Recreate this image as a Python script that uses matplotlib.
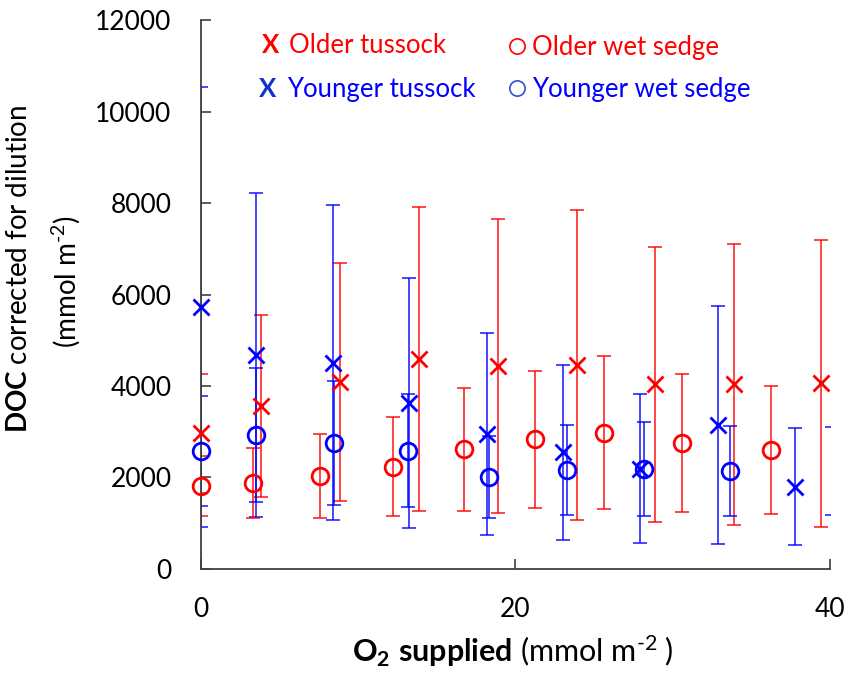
import matplotlib
matplotlib.use("Agg")
import matplotlib.pyplot as plt
import numpy as np

plt.rcParams['font.family'] = ['Lato', 'DejaVu Sans']
plt.rcParams['mathtext.fontset'] = 'custom'
plt.rcParams['mathtext.rm'] = 'Lato'
plt.rcParams['mathtext.it'] = 'Lato:italic'
plt.rcParams['mathtext.bf'] = 'Lato:bold'

# O2 supplied (x), DOC mean (y) and error (+/-) for each group
older_tussock_x = [0, 3.83, 8.83, 13.87, 18.87, 23.90, 28.88, 33.92, 39.45]
older_tussock_y = [2966, 3570, 4094, 4590, 4437, 4459, 4036, 4036, 4058]
older_tussock_err = [1296, 1990, 2597, 3320, 3224, 3380, 3009, 3070, 3137]

younger_tussock_x = [0, 3.49, 8.38, 13.23, 18.17, 23.04, 27.95, 32.89, 37.76]
younger_tussock_y = [5720, 4671, 4510, 3636, 2951, 2550, 2193, 3148, 1799]
younger_tussock_err = [4810, 3545, 3450, 2730, 2205, 1910, 1630, 2595, 1280]

older_sedge_x = [0, 3.32, 7.56, 12.22, 16.73, 21.24, 25.62, 30.60, 36.28]
older_sedge_y = [1807, 1880, 2033, 2236, 2616, 2834, 2980, 2761, 2601]
older_sedge_err = [656, 760, 915, 1080, 1340, 1500, 1675, 1510, 1400]

younger_sedge_x = [0, 3.49, 8.47, 13.19, 18.30, 23.29, 28.18, 33.63, 40.10]
younger_sedge_y = [2572, 2929, 2754, 2586, 2018, 2164, 2193, 2142, 2142]
younger_sedge_err = [1200, 1470, 1350, 1240, 900, 990, 1025, 985, 962]

red = '#ff0000'
blue = '#0000ff'

fig = plt.figure(figsize=(8.48, 6.81), dpi=100)
ax = fig.add_axes([0.2367, 0.1645, 0.7421, 0.806])
ax.set_xlim(0, 40)
ax.set_ylim(0, 12000)

series = [
    (older_tussock_x, older_tussock_y, older_tussock_err, red, 'x', 11),
    (younger_tussock_x, younger_tussock_y, younger_tussock_err, blue, 'x', 11),
    (older_sedge_x, older_sedge_y, older_sedge_err, red, 'o', 12),
    (younger_sedge_x, younger_sedge_y, younger_sedge_err, blue, 'o', 12),
]

# error bars are clipped by the axes, markers inside the x range are not
for xs, ys, errs, col, mk, ms in series:
    ax.errorbar(xs, ys, yerr=errs, fmt='none', ecolor=col, elinewidth=1.2,
                capsize=5, capthick=1.2, alpha=0.85)
for xs, ys, errs, col, mk, ms in series:
    xs = np.array(xs)
    ys = np.array(ys)
    keep = xs <= 40
    ax.plot(xs[keep], ys[keep], linestyle='none', marker=mk, markersize=ms,
            markeredgewidth=2.0, markeredgecolor=col, markerfacecolor='none',
            clip_on=False, zorder=3)

for side in ['top', 'right']:
    ax.spines[side].set_visible(False)
for side in ['left', 'bottom']:
    ax.spines[side].set_color('#404040')
    ax.spines[side].set_linewidth(1.3)

ax.set_yticks(np.arange(0, 12001, 2000))
ax.set_xticks([0, 20, 40])
ax.tick_params(axis='both', direction='in', length=7.5, width=1.2,
               color='#404040', labelsize=19, labelcolor='black')
ax.tick_params(axis='y', pad=21)
ax.tick_params(axis='x', pad=20)

# axis titles, superscripts use a short hyphen
hy = '\u2010'
fig.text(0.0318, 0.605, r"$\mathbf{DOC}$ corrected for dilution", fontsize=20,
         rotation=90, rotation_mode='anchor', ha='center', va='baseline')
fig.text(0.0890, 0.586, "(mmol m$^{" + hy + "2}$)", fontsize=20,
         rotation=90, rotation_mode='anchor', ha='center', va='baseline')
fig.text(0.605, 1 - 662 / 681, r"$\mathbf{O_2\ supplied}$ (mmol m$^{" + hy + "2}$ )",
         fontsize=22, ha='center', va='baseline')

# legend written as coloured text
tr = ax.transAxes
ax.text(0.111, 0.940, 'X', color=red, fontsize=18.5, fontweight='bold',
        ha='center', va='baseline', transform=tr)
ax.text(0.140, 0.940, 'Older tussock', color=red, fontsize=18.5,
        ha='left', va='baseline', transform=tr)
ax.text(0.106, 0.859, 'X', color='#1030d0', fontsize=18.5, fontweight='bold',
        ha='center', va='baseline', transform=tr)
ax.text(0.137, 0.859, 'Younger tussock', color=blue, fontsize=18.5,
        ha='left', va='baseline', transform=tr)
ax.plot([0.502], [0.953], marker='o', markersize=11, markeredgewidth=1.2,
        markeredgecolor=red, markerfacecolor='none', transform=tr, clip_on=False)
ax.text(0.526, 0.936, 'Older wet sedge', color=red, fontsize=18.5,
        ha='left', va='baseline', transform=tr)
ax.plot([0.502], [0.876], marker='o', markersize=11, markeredgewidth=1.2,
        markeredgecolor='#3050d0', markerfacecolor='none', transform=tr, clip_on=False)
ax.text(0.526, 0.860, 'Younger wet sedge', color=blue, fontsize=18.5,
        ha='left', va='baseline', transform=tr)

fig.savefig('out.png', dpi=100)
